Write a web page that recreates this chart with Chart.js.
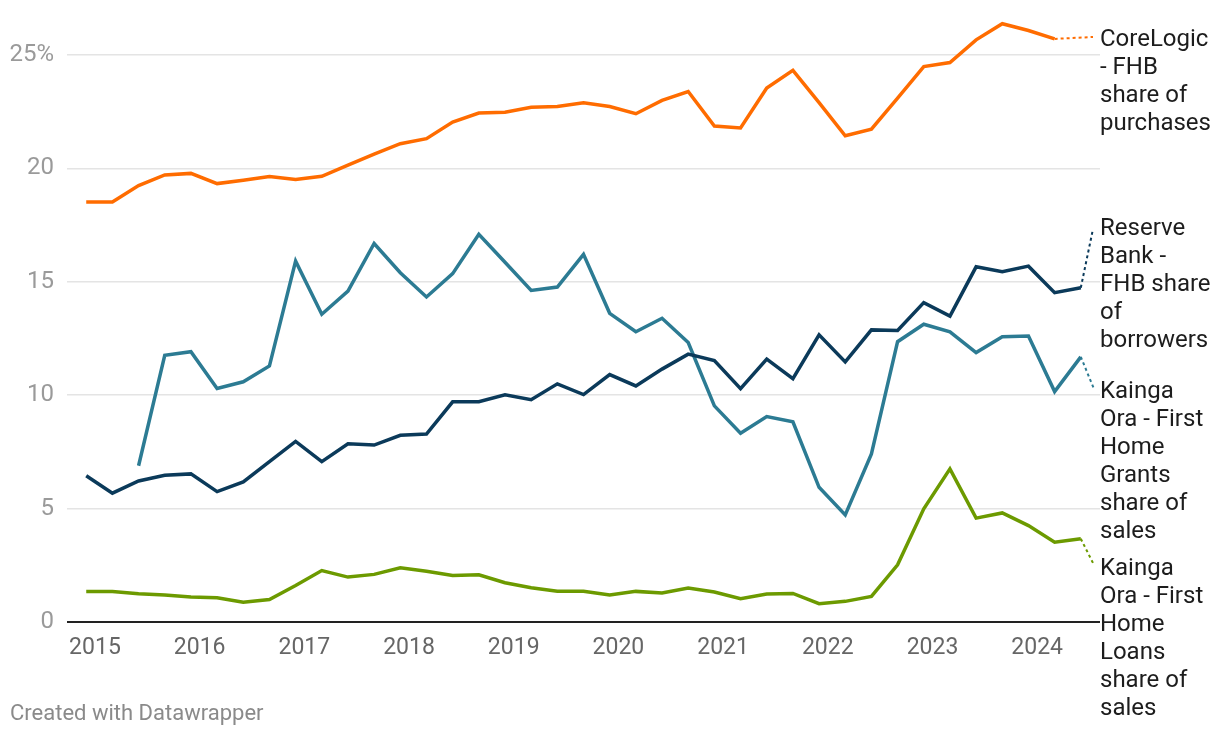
<!DOCTYPE html>
<html>
<head>
<meta charset="utf-8">
<script src="https://cdn.jsdelivr.net/npm/chart.js@4"></script>
<style>
  html, body { margin: 0; padding: 0; background: #fff; }
  #wrap { width: 1220px; height: 738px; }
</style>
</head>
<body>
<div id="wrap"><canvas id="chart" width="1220" height="738"></canvas></div>
<script>
// quarterly periods
const periods = ["Dec 2014","Mar 2015","Jun 2015","Sep 2015","Dec 2015","Mar 2016","Jun 2016","Sep 2016",
  "Dec 2016","Mar 2017","Jun 2017","Sep 2017","Dec 2017","Mar 2018","Jun 2018","Sep 2018",
  "Dec 2018","Mar 2019","Jun 2019","Sep 2019","Dec 2019","Mar 2020","Jun 2020","Sep 2020",
  "Dec 2020","Mar 2021","Jun 2021","Sep 2021","Dec 2021","Mar 2022","Jun 2022","Sep 2022",
  "Dec 2022","Mar 2023","Jun 2023","Sep 2023","Dec 2023","Mar 2024","Jun 2024"];

const yearTicks = [2015, 2016, 2017, 2018, 2019, 2020, 2021, 2022, 2023, 2024];
const yTicks = [0, 5, 10, 15, 20, 25];

const coreLogic = [18.52, 18.52, 19.24, 19.71, 19.78, 19.33, 19.48, 19.64, 19.51, 19.65, 20.14, 20.63, 21.09,
  21.31, 22.04, 22.44, 22.48, 22.70, 22.73, 22.89, 22.73, 22.41, 23.0, 23.39, 21.87, 21.78, 23.54, 24.32,
  22.9, 21.44, 21.73, 23.10, 24.49, 24.67, 25.67, 26.38, 26.08, 25.71, null];
const reserveBank = [6.45, 5.68, 6.22, 6.47, 6.53, 5.75, 6.18, 7.07, 7.96, 7.07, 7.86, 7.80, 8.23, 8.29,
  9.71, 9.71, 10.02, 9.80, 10.50, 10.03, 10.91, 10.41, 11.15, 11.81, 11.53, 10.29, 11.59, 10.73, 12.66,
  11.47, 12.88, 12.85, 14.08, 13.49, 15.66, 15.44, 15.69, 14.52, 14.74];
const grants = [null, null, 6.89, 11.76, 11.92, 10.30, 10.59, 11.29, 15.91, 13.57, 14.59, 16.69, 15.4,
  14.33, 15.36, 17.09, 15.86, 14.62, 14.77, 16.21, 13.61, 12.80, 13.39, 12.32, 9.53, 8.32, 9.06, 8.83,
  5.94, 4.72, 7.41, 12.36, 13.13, 12.79, 11.88, 12.58, 12.61, 10.16, 11.69];
const loans = [1.34, 1.34, 1.25, 1.19, 1.10, 1.07, 0.87, 0.99, 1.61, 2.27, 1.98, 2.10, 2.39, 2.24, 2.05,
  2.08, 1.73, 1.51, 1.36, 1.36, 1.19, 1.35, 1.28, 1.50, 1.32, 1.03, 1.23, 1.26, 0.81, 0.91, 1.13, 2.52,
  4.99, 6.75, 4.58, 4.81, 4.25, 3.52, 3.67];

const seriesLabels = [
  ["CoreLogic", "- FHB", "share of", "purchases"],
  ["Reserve", "Bank -", "FHB share", "of", "borrowers"],
  ["Kainga", "Ora - First", "Home", "Grants", "share of", "sales"],
  ["Kainga", "Ora - First", "Home", "Loans", "share of", "sales"]
];
const colors = ["#ff6c00", "#0b3a5a", "#2c7b93", "#6c9a00"];

const months = {Mar: 2, Jun: 5, Sep: 8, Dec: 11};
function toX(p) {
  const parts = p.split(" ");
  return Number(parts[1]) + months[parts[0]] / 12;
}
function points(arr) {
  return arr.map((v, i) => ({x: toX(periods[i]), y: v}));
}

// label block positions (first baseline) and connector end points
const labelPos = [
  {y: 46, ex: 1093, ey: 37},
  {y: 234.5, ex: 1093, ey: 229},
  {y: 397.5, ex: 1094, ey: 389},
  {y: 574.5, ex: 1093, ey: 563}
];

const labelPlugin = {
  id: "labels",
  afterDatasetsDraw(chart) {
    const ctx = chart.ctx;
    const xs = chart.scales.x, ys = chart.scales.y;
    ctx.save();
    chart.data.datasets.forEach((ds, k) => {
      let last = null;
      for (let i = ds.data.length - 1; i >= 0; i--) {
        if (ds.data[i].y != null) { last = ds.data[i]; break; }
      }
      const px = xs.getPixelForValue(last.x), py = ys.getPixelForValue(last.y);
      ctx.strokeStyle = colors[k];
      ctx.lineWidth = 2;
      ctx.setLineDash([3, 3]);
      ctx.beginPath();
      ctx.moveTo(px, py);
      ctx.lineTo(labelPos[k].ex, labelPos[k].ey);
      ctx.stroke();
      ctx.setLineDash([]);
      ctx.fillStyle = "#1d1d1d";
      ctx.font = "24px Roboto";
      ctx.textBaseline = "alphabetic";
      ctx.textAlign = "left";
      seriesLabels[k].forEach((t, j) => ctx.fillText(t, 1100, labelPos[k].y + j * 28));
    });
    ctx.fillStyle = "#8a8a8a";
    ctx.font = "22px Roboto";
    ctx.textBaseline = "middle";
    ctx.fillText("Created with Datawrapper", 10, 714);
    ctx.restore();
  }
};

new Chart(document.getElementById("chart"), {
  type: "line",
  data: {
    datasets: [coreLogic, reserveBank, grants, loans].map((arr, k) => ({
      label: seriesLabels[k].join(" "),
      data: points(arr),
      borderColor: colors[k],
      borderWidth: 3.5,
      pointRadius: 0,
      tension: 0,
      clip: false,
      borderJoinStyle: "miter"
    }))
  },
  options: {
    responsive: false,
    animation: false,
    layout: {padding: {top: 55, right: 120, bottom: 0, left: 0}},
    plugins: {legend: {display: false}, tooltip: {enabled: false}},
    scales: {
      x: {
        type: "linear",
        min: 2014.733,
        max: 2024.6,
        afterBuildTicks: (axis) => { axis.ticks = yearTicks.map(v => ({value: v})); },
        afterFit: (axis) => { axis.height = 116; },
        grid: {display: false, drawTicks: false},
        border: {display: false},
        ticks: {
          color: "#666",
          font: {family: "Roboto", size: 23},
          padding: 12,
          maxRotation: 0,
          autoSkip: false,
          callback: (v) => String(v)
        }
      },
      y: {
        min: 0,
        max: 25,
        afterBuildTicks: (axis) => { axis.ticks = yTicks.map(v => ({value: v})); },
        afterFit: (axis) => { axis.width = 67; },
        grid: {
          drawTicks: false,
          color: (c) => c.tick && c.tick.value === 0 ? "#222" : "#e4e4e4",
          lineWidth: (c) => c.tick && c.tick.value === 0 ? 2 : 1.5
        },
        border: {display: false},
        ticks: {
          color: "#9a9a9a",
          font: {family: "Roboto", size: 24},
          padding: 13,
          callback: (v) => v === 25 ? "25%" : String(v)
        }
      }
    }
  },
  plugins: [labelPlugin]
});
</script>
</body>
</html>
